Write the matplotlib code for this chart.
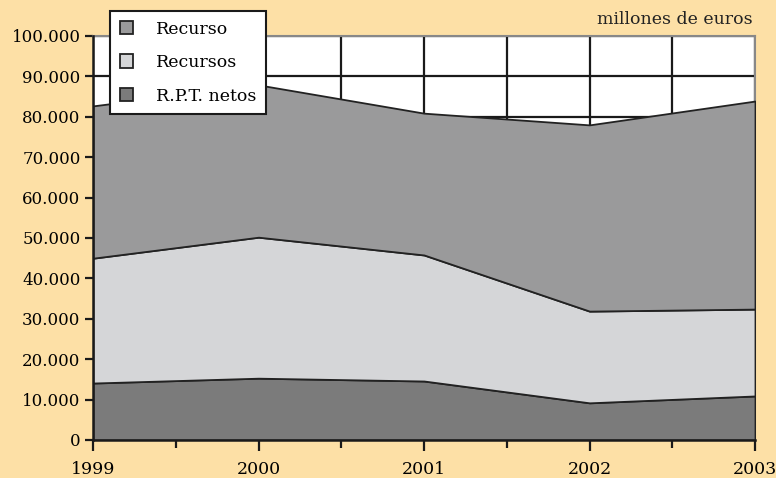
import matplotlib.pyplot as plt
from matplotlib.ticker import MultipleLocator, FuncFormatter

# datos (millones de euros)
years = [1999, 2000, 2001, 2002, 2003]
rpt_netos = [14100, 15300, 14600, 9200, 10900]
recursos = [30900, 34900, 31200, 22700, 21500]
recurso = [37700, 37700, 35100, 46100, 51500]

labels = ['R.P.T. netos', 'Recursos', 'Recurso']
colors = ['#7b7b7b', '#d5d6d8', '#9a9a9b']
bg = '#fde0a6'

plt.rcParams['font.family'] = ['DejaVu Serif']

fig = plt.figure(figsize=(7.76, 4.78), dpi=100, facecolor=bg)
ax = fig.add_axes([93 / 776, 1 - 440 / 478, (755 - 93) / 776, (440 - 36) / 478])
ax.set_facecolor('white')

polys = ax.stackplot(years, rpt_netos, recursos, recurso, colors=colors,
                     edgecolor='#222222', linewidth=1.3, zorder=3)

ax.set_xlim(1999, 2003)
ax.set_ylim(0, 100000)
ax.xaxis.set_major_locator(MultipleLocator(1))
ax.xaxis.set_minor_locator(MultipleLocator(0.5))
ax.yaxis.set_major_locator(MultipleLocator(10000))
ax.yaxis.set_major_formatter(FuncFormatter(lambda v, p: f'{int(v):,}'.replace(',', '.')))

ax.grid(True, which='both', axis='x', color='#1a1a1a', linewidth=1.6, zorder=1)
ax.grid(True, which='major', axis='y', color='#1a1a1a', linewidth=1.6, zorder=1)
ax.set_axisbelow(True)

ax.tick_params(axis='both', which='both', direction='out', color='#1a1a1a', width=1.6)
ax.tick_params(axis='x', which='major', length=8, pad=7, labelsize=12.5)
ax.tick_params(axis='x', which='minor', length=6)
ax.tick_params(axis='y', length=6, pad=3, labelsize=12)

for s in ['left', 'bottom']:
    ax.spines[s].set_color('#1a1a1a')
    ax.spines[s].set_linewidth(1.8)
    ax.spines[s].set_zorder(5)
for s in ['top', 'right']:
    ax.spines[s].set_color('#888888')
    ax.spines[s].set_linewidth(1.5)

fig.text(753 / 776, 1 - 20 / 478, 'millones de euros', ha='right', va='center',
         fontsize=12.5, color='#222222')

handles = [polys[2], polys[1], polys[0]]
leg = fig.legend(handles, ['Recurso', 'Recursos', 'R.P.T. netos'],
                 loc='upper left', bbox_to_anchor=(110 / 776, 1 - 11 / 478),
                 frameon=True, fancybox=False, edgecolor='#1a1a1a',
                 framealpha=1, fontsize=12.5, handlelength=0.8, handleheight=0.8,
                 labelspacing=0.95, handletextpad=1.3, borderpad=0.55,
                 borderaxespad=0)
leg.get_frame().set_linewidth(1.5)
leg.set_zorder(10)

fig.savefig('out.png', dpi=100, facecolor=bg)
